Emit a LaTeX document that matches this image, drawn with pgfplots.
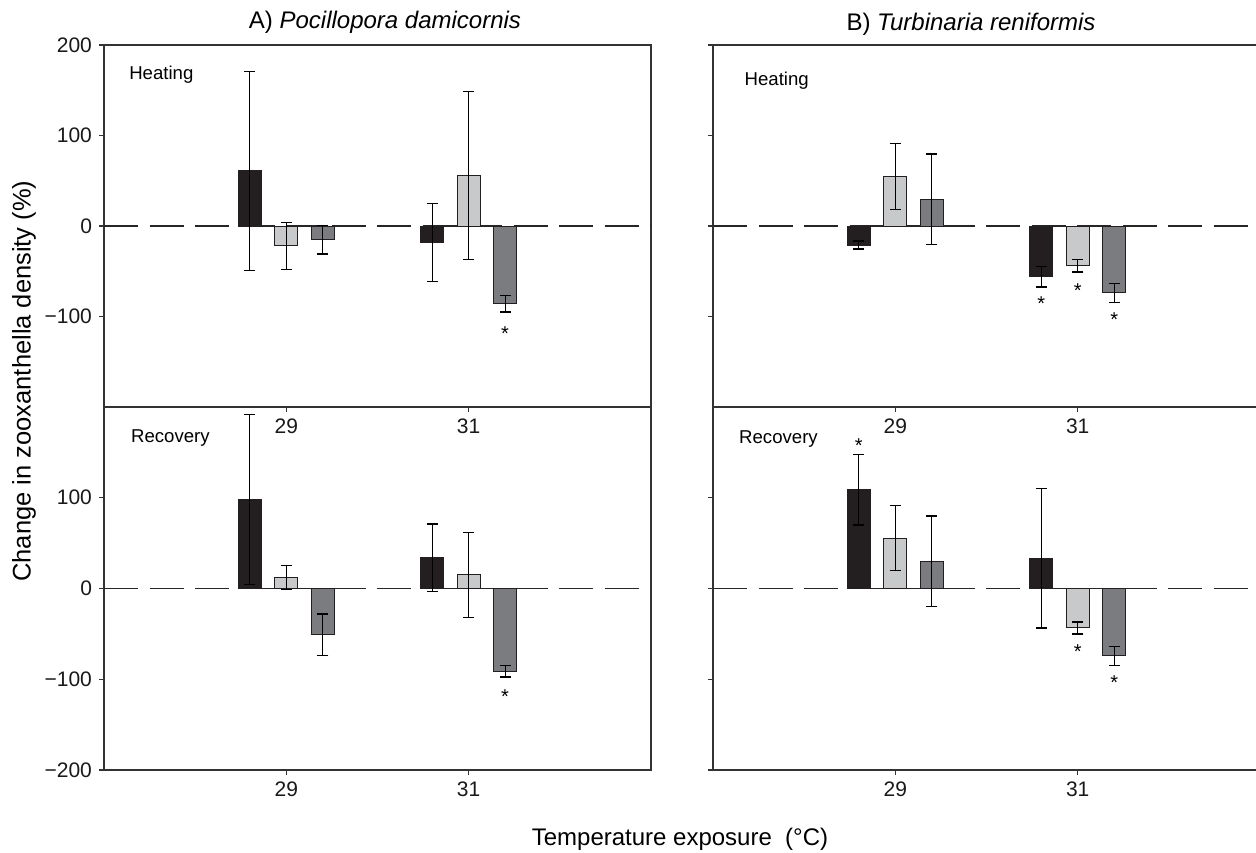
\documentclass[border=0pt]{standalone}
\usepackage{fontspec}
\setmainfont{Liberation Sans}
\usepackage{pgfplots}
\pgfplotsset{compat=1.18}

\definecolor{barblack}{HTML}{231F20}
\definecolor{barlight}{HTML}{C8C9CB}
\definecolor{bardark}{HTML}{7B7C7F}
\definecolor{axisgray}{HTML}{333333}

\pgfplotsset{
 panel/.style={
  scale only axis, width=273.5pt, height=181pt,
  xmin=27, xmax=33, ymin=-200, ymax=200,
  xtick={29,31}, xticklabels={29,31},
  tick align=outside, xtick pos=bottom, ytick pos=left,
  major tick length=2.5pt,
  axis line style={line width=0.7pt, axisgray},
  every tick/.style={line width=0.6pt, axisgray},
  tick label style={font=\fontsize{10.5}{12}\selectfont, text=black!90},
  clip=false,
 },
 bars/.style={ybar, bar width=11.5pt, bar shift=0pt, draw=barblack, line width=0.5pt,
   error bars/y dir=both, error bars/y explicit,
   error bars/error mark=-,
   error bars/error bar style={line width=0.6pt, black},
   error bars/error mark options={rotate=90, line width=0.6pt, mark size=2.8pt, black}},
 zero/.style={dash pattern=on 17pt off 5.75pt, line width=0.6pt, black!85},
 star/.style={only marks, mark=none, nodes near coords={*},
   every node near coord/.style={anchor=center, inner sep=0pt, font=\fontsize{10}{12}\selectfont}},
}
\tikzset{lab/.style={anchor=base west, font=\fontsize{9.3}{11}\selectfont}}

\begin{document}
\begin{tikzpicture}
\useasboundingbox (0pt,0pt) rectangle (628pt,-426pt);

% ---------- A) top: Heating ----------
\begin{axis}[panel, at={(52pt,-22.5pt)}, anchor=north west,
  ytick={-100,0,100,200}, yticklabels={−100,0,100,200}]
\addplot[zero] coordinates {(27,0) (33,0)};
\addplot[bars, fill=barblack] coordinates {(28.6,61) +- (0,110) (30.6,-18) +- (0,43)};
\addplot[bars, fill=barlight] coordinates {(29,-22) +- (0,26) (31,56) +- (0,93)};
\addplot[bars, fill=bardark] coordinates {(29.4,-15) +- (0,16) (31.4,-86) +- (0,9)};
\addplot[star] coordinates {(31.4,-119)};
\node[lab] at (axis cs:27.2,161.7) {Heating};
\end{axis}

% ---------- A) bottom: Recovery ----------
\begin{axis}[panel, at={(52pt,-203.5pt)}, anchor=north west, height=181.5pt,
  ytick={-200,-100,0,100}, yticklabels={−200,−100,0,100}]
\addplot[zero] coordinates {(27,0) (33,0)};
\addplot[bars, fill=barblack] coordinates {(28.6,98) +- (0,94) (30.6,34) +- (0,37)};
\addplot[bars, fill=barlight] coordinates {(29,12) +- (0,13.5) (31,15) +- (0,47)};
\addplot[bars, fill=bardark] coordinates {(29.4,-51) +- (0,23) (31.4,-91) +- (0,6.5)};
\addplot[star] coordinates {(31.4,-119)};
\node[lab] at (axis cs:27.22,160.8) {Recovery};
\end{axis}

% ---------- B) top: Heating ----------
\begin{axis}[panel, at={(356.5pt,-22.5pt)}, anchor=north west,
  ytick={-100,0,100,200}, yticklabels={}]
\addplot[zero] coordinates {(27,0) (33,0)};
\addplot[bars, fill=barblack] coordinates {(28.6,-21) +- (0,4.5) (30.6,-56) +- (0,11.5)};
\addplot[bars, fill=barlight] coordinates {(29,55) +- (0,36.5) (31,-44) +- (0,6.8)};
\addplot[bars, fill=bardark] coordinates {(29.4,29.5) +- (0,50) (31.4,-74) +- (0,10.6)};
\addplot[star] coordinates {(30.6,-86) (31,-71) (31.4,-103)};
\node[lab] at (axis cs:27.27,155) {Heating};
\end{axis}

% ---------- B) bottom: Recovery ----------
\begin{axis}[panel, at={(356.5pt,-203.5pt)}, anchor=north west, height=181.5pt,
  ytick={-200,-100,0,100}, yticklabels={}]
\addplot[zero] coordinates {(27,0) (33,0)};
\addplot[bars, fill=barblack] coordinates {(28.6,109) +- (0,39) (30.6,33.5) +- (0,77)};
\addplot[bars, fill=barlight] coordinates {(29,55.6) +- (0,36) (31,-43.5) +- (0,6.6)};
\addplot[bars, fill=bardark] coordinates {(29.4,30) +- (0,50) (31.4,-74) +- (0,10.5)};
\addplot[star] coordinates {(28.6,157) (31,-70) (31.4,-104)};
\node[lab] at (axis cs:27.21,159.7) {Recovery};
\end{axis}

% ---------- titles and axis labels ----------
\node[anchor=base, font=\fontsize{12}{14}\selectfont] at (192.5pt,-14pt) {A) \textit{Pocillopora damicornis}};
\node[anchor=base, font=\fontsize{12}{14}\selectfont] at (485.5pt,-15pt) {B) \textit{Turbinaria reniformis}};
\node[anchor=base, font=\fontsize{12.75}{15}\selectfont, rotate=90] at (15.3pt,-190.5pt) {Change in zooxanthella density (\%)};
\node[anchor=base, font=\fontsize{12}{14}\selectfont] at (340pt,-422.5pt) {Temperature exposure\ \ (°C)};
\end{tikzpicture}
\end{document}
